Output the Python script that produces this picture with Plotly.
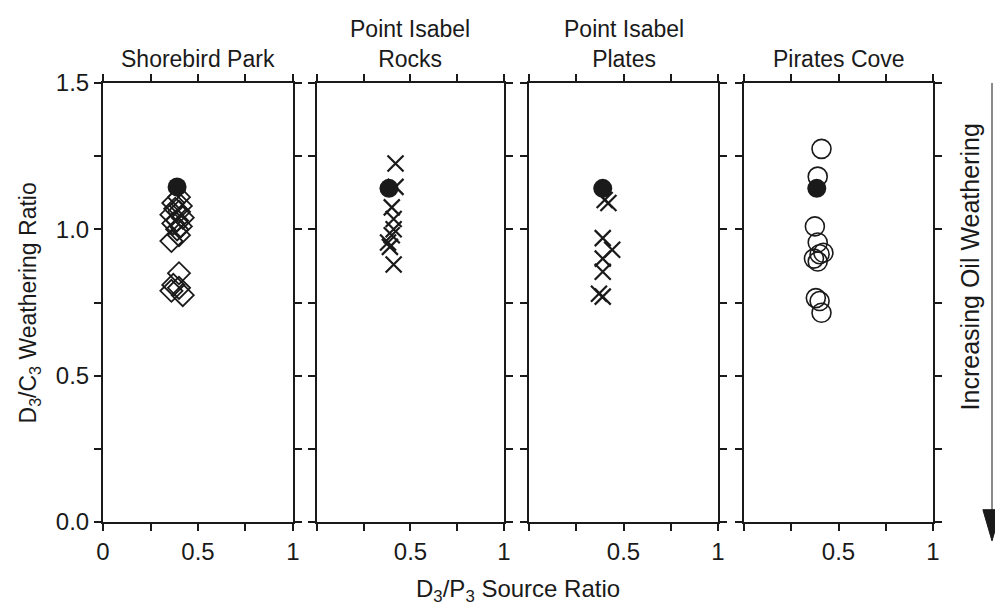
import plotly.graph_objects as go

# Panel titles (one per sampling site)
sites = ["Shorebird Park", "Point Isabel<br>Rocks", "Point Isabel<br>Plates", "Pirates Cove"]

# Source oil reference point, drawn in every panel
source_x = [0.39, 0.385, 0.39, 0.385]
source_y = [1.145, 1.14, 1.14, 1.14]

# Shorebird Park samples (open diamonds)
shorebird_x = [0.40, 0.37, 0.41, 0.38, 0.40, 0.36, 0.42, 0.39, 0.37, 0.41, 0.39, 0.40, 0.36,
               0.40, 0.37, 0.40, 0.36, 0.42]
shorebird_y = [1.11, 1.09, 1.08, 1.07, 1.06, 1.05, 1.04, 1.03, 1.02, 1.01, 1.00, 0.98, 0.96,
               0.85, 0.81, 0.80, 0.79, 0.775]

# Point Isabel Rocks samples (crosses)
rocks_x = [0.42, 0.42, 0.40, 0.41, 0.41, 0.40, 0.38, 0.39, 0.41]
rocks_y = [1.225, 1.145, 1.075, 1.035, 1.00, 0.98, 0.955, 0.94, 0.88]

# Point Isabel Plates samples (crosses)
plates_x = [0.40, 0.42, 0.39, 0.44, 0.39, 0.39, 0.37, 0.39]
plates_y = [1.10, 1.09, 0.97, 0.93, 0.90, 0.855, 0.78, 0.77]

# Pirates Cove samples (open circles)
pirates_x = [0.41, 0.39, 0.375, 0.39, 0.40, 0.42, 0.37, 0.39, 0.38, 0.40, 0.41]
pirates_y = [1.275, 1.18, 1.01, 0.955, 0.915, 0.92, 0.90, 0.89, 0.765, 0.755, 0.715]

# Labelled tick positions; unlabelled ticks every 0.25 are minor ticks
x_labels_first = [0, 0.5, 1]
x_labels_rest = [0.5, 1]
y_labels = [0.0, 0.5, 1.0, 1.5]

INK = "#1a1a1a"
FONT = "Liberation Sans, Arial, sans-serif"

domains = [[0.0, 0.2289], [0.2578, 0.4831], [0.5133, 0.7410], [0.7723, 1.0]]

fig = go.Figure()

samples = [
    (shorebird_x, shorebird_y, dict(symbol="diamond-open", size=17, color=INK,
                                    line=dict(width=1.8, color=INK))),
    (rocks_x, rocks_y, dict(symbol="x-thin", size=16, color=INK,
                            line=dict(width=2.2, color=INK))),
    (plates_x, plates_y, dict(symbol="x-thin", size=16, color=INK,
                              line=dict(width=2.2, color=INK))),
    (pirates_x, pirates_y, dict(symbol="circle-open", size=19, color=INK,
                                line=dict(width=1.6, color=INK))),
]

for i, (sx, sy, mk) in enumerate(samples):
    n = "" if i == 0 else str(i + 1)
    fig.add_trace(go.Scatter(x=sx, y=sy, mode="markers", marker=mk,
                             xaxis="x" + n, yaxis="y" + n, showlegend=False))
    fig.add_trace(go.Scatter(x=[source_x[i]], y=[source_y[i]], mode="markers",
                             marker=dict(symbol="circle", size=19, color=INK),
                             xaxis="x" + n, yaxis="y" + n, showlegend=False))

axis_common = dict(showline=True, linewidth=2, linecolor=INK, mirror="ticks",
                   ticks="outside", ticklen=7, tickwidth=2, tickcolor=INK,
                   showgrid=False, zeroline=False, fixedrange=True,
                   minor=dict(ticks="outside", ticklen=7, tickwidth=2, tickcolor=INK,
                              dtick=0.25, tick0=0, showgrid=False),
                   tickfont=dict(family=FONT, size=24, color=INK))

layout = dict(
    width=995, height=607,
    margin=dict(l=103, r=62, t=83, b=85),
    paper_bgcolor="white", plot_bgcolor="white",
    font=dict(family=FONT, color=INK),
)

for i in range(4):
    n = "" if i == 0 else str(i + 1)
    xvals = x_labels_first if i == 0 else x_labels_rest
    xa = dict(axis_common, domain=domains[i], range=[0, 1], anchor="y" + n,
              tickmode="array", tickvals=xvals, ticktext=[f"{v:g}" for v in xvals])
    ya = dict(axis_common, domain=[0, 1], range=[0, 1.5], anchor="x" + n,
              tickmode="array", tickvals=y_labels,
              ticktext=[f"{v:.1f}" for v in y_labels], showticklabels=(i == 0))
    layout["xaxis" + n] = xa
    layout["yaxis" + n] = ya

fig.update_layout(**layout)

annotations = []
for i, name in enumerate(sites):
    annotations.append(dict(text=name, x=sum(domains[i]) / 2, y=1.02, xref="paper",
                            yref="paper", xanchor="center", yanchor="bottom",
                            showarrow=False, font=dict(family=FONT, size=23, color=INK)))

annotations.append(dict(text="D<sub>3</sub>/C<sub>3</sub> Weathering Ratio",
                        x=-0.088, y=0.5, xref="paper", yref="paper", textangle=-90,
                        xanchor="center", yanchor="middle", showarrow=False,
                        font=dict(family=FONT, size=23, color=INK)))
annotations.append(dict(text="D<sub>3</sub>/P<sub>3</sub> Source Ratio",
                        x=0.5, y=-0.155, xref="paper", yref="paper",
                        xanchor="center", yanchor="middle", showarrow=False,
                        font=dict(family=FONT, size=24, color=INK)))
annotations.append(dict(text="Increasing Oil Weathering",
                        x=1.0446, y=0.58, xref="paper", yref="paper", textangle=-90,
                        xanchor="center", yanchor="middle", showarrow=False,
                        font=dict(family=FONT, size=25, color=INK)))
fig.update_layout(annotations=annotations)

# weathering arrow: long grey shaft plus a solid downward head
ax_x = 1.0711
fig.add_shape(type="line", xref="paper", yref="paper", x0=ax_x, x1=ax_x,
              y0=1.0, y1=0.0, line=dict(color="#8a8a8a", width=2))
fig.add_shape(type="path", xref="paper", yref="paper",
              path=f"M {ax_x - 0.011},0.028 L {ax_x + 0.011},0.028 L {ax_x},-0.043 Z",
              fillcolor=INK, line=dict(color=INK, width=1))

fig.write_html("out.html")
